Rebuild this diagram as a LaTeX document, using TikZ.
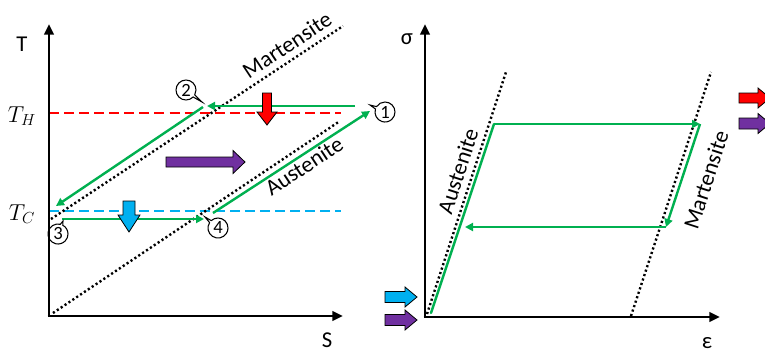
\documentclass[tikz,border=0pt]{standalone}
\usepackage{fontspec}
\setmainfont{Carlito}
\usetikzlibrary{arrows.meta,shapes.callouts}
\definecolor{sgreen}{RGB}{0,176,80}
\definecolor{sred}{RGB}{255,0,0}
\definecolor{sblue}{RGB}{0,176,240}
\definecolor{spurple}{RGB}{112,48,160}
\newcommand\blkarrow[8]{\filldraw[fill=#1,draw=black,line width=0.6pt,shift={(#2,#3)},rotate=#4] (0,-#7) -- ({#5-#6},-#7) -- ({#5-#6},-#8) -- (#5,0) -- ({#5-#6},#8) -- ({#5-#6},#7) -- (0,#7) -- cycle;}
\tikzset{
 axisline/.style={line width=2pt,-{Triangle[length=8pt,width=7pt]}},
 phaseline/.style={line width=1.8pt, dash pattern=on 1.6pt off 1.9pt},
 cyc/.style={draw=sgreen,line width=1.8pt,-{Triangle[length=6pt,width=6pt]}},
 cycplain/.style={draw=sgreen,line width=1.8pt},
 lbl/.style={font=\fontsize{17}{17}\selectfont, inner sep=0},
 mlbl/.style={font=\fontsize{18}{18}\selectfont, inner sep=0},
 num/.style={ellipse callout, draw, line width=0.8pt, minimum width=15pt, minimum height=15pt, inner sep=0, font=\fontsize{14}{14}\selectfont},
 hdash/.style={line width=1.6pt, dash pattern=on 7.5pt off 3.8pt},
}
\begin{document}
\begin{tikzpicture}[x=0.75pt,y=-0.75pt]
\useasboundingbox (0,0) rectangle (765,354);
\clip (0,0) rectangle (765,354);
% ---------- left panel ----------
\coordinate (O1) at (49,316);
\coordinate (Y1) at (49,24);
\coordinate (X1) at (343,316);
\coordinate (rh1) at (49,113); \coordinate (rh2) at (341,113);
\coordinate (bc1) at (49,211); \coordinate (bc2) at (341,211);
\coordinate (m1a) at (51,219); \coordinate (m1b) at (343,26);
\coordinate (a1a) at (53,313); \coordinate (a1b) at (340,121);
\draw[hdash,draw=sred] (rh1) -- (rh2);
\draw[hdash,draw=sblue] (bc1) -- (bc2);
\draw[phaseline] (m1a) -- (m1b);
\draw[phaseline] (a1a) -- (a1b);
\draw[axisline] (O1) -- (Y1);
\draw[axisline] ([xshift=-1pt]O1) -- (X1);
\node[lbl] (tT) at (22,44) {T};
\node[lbl] (tS) at (327,340) {S};
\node[mlbl] (tTH) at (22,116) {$T_H$};
\node[mlbl] (tTC) at (22,214) {$T_C$};
\node[lbl,rotate=33.5] (mart1) at (287,45) {Martensite};
\node[lbl,rotate=33.5] (aust1) at (304,166) {Austenite};
% cycle
\coordinate (s1) at (355,106); \coordinate (e2) at (207,106);
\coordinate (s2) at (203,107); \coordinate (e3) at (56,206);
\coordinate (s3) at (62,219); \coordinate (e4) at (204,219);
\coordinate (s4) at (213,213); \coordinate (e1) at (370,111);
\draw[cyc] (s1) -- (e2);
\draw[cyc] (s2) -- (e3);
\draw[cyc] (s3) -- (e4);
\draw[cyc] (s4) -- (e1);
\node[num,callout absolute pointer={(370,105)}] (n1) at (385,112) {1};
\node[num,callout absolute pointer={(202,102)}] (n2) at (186,90) {2};
\node[num,callout absolute pointer={(63,221)}] (n3) at (58,234) {3};
\node[num,callout absolute pointer={(205,217)}] (n4) at (218,228) {4};
\blkarrow{sred}{267}{93}{-90}{32}{13}{4.5}{10}
\blkarrow{sblue}{129}{201}{-90}{31}{17}{6}{11}
\blkarrow{spurple}{166}{162}{0}{79}{12}{5}{11.5}
% ---------- right panel ----------
\coordinate (O2) at (425,317);
\coordinate (Y2) at (425,24);
\coordinate (X2) at (720,317);
\coordinate (a2a) at (427,314); \coordinate (a2b) at (506,72);
\coordinate (m2a) at (631,316); \coordinate (m2b) at (711,72);
\draw[phaseline] (a2a) -- (a2b);
\draw[phaseline] (m2a) -- (m2b);
\draw[axisline] (O2) -- (Y2);
\draw[axisline] ([xshift=-1pt]O2) -- (X2);
\node[lbl] (tsig) at (407,39) {σ};
\node[lbl] (teps) at (707,343) {ε};
\node[lbl,rotate=72] (aust2) at (458,171) {Austenite};
\node[lbl,rotate=72] (mart2) at (706,180) {Martensite};
\coordinate (g0) at (431,313); \coordinate (g1) at (494,124);
\coordinate (g2) at (700,124); \coordinate (g3) at (666,227);
\coordinate (g4) at (465,227);
\draw[cycplain,line cap=round] (g0) -- (g1);
\draw[cyc] (g1) -- (g2);
\draw[cyc] (g2) -- (g3);
\draw[cyc] (g3) -- (g4);
\blkarrow{sblue}{385}{297}{0}{32}{12}{5.5}{10}
\blkarrow{spurple}{385}{320}{0}{32}{12}{5.5}{10}
\blkarrow{sred}{739}{98}{0}{31}{12}{5}{10}
\blkarrow{spurple}{739}{123.5}{0}{31}{12}{5.5}{10}
\end{tikzpicture}
\end{document}
